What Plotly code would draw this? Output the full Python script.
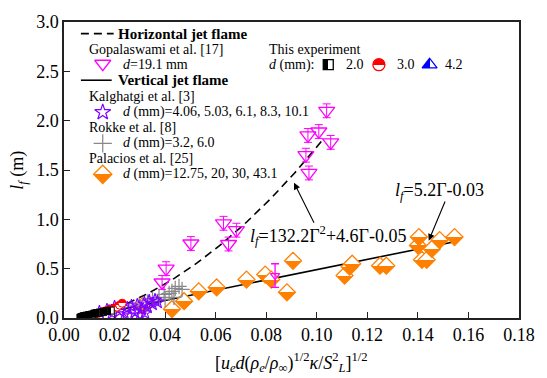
import numpy as np
import plotly.graph_objects as go

# ---------------- data ----------------
# Gopalaswami et al. [17] (horizontal jet flame), d = 19.1 mm
gop_x = [0.1039, 0.1008, 0.0965, 0.1055, 0.0957, 0.0969, 0.0631, 0.0682, 0.0651, 0.0502, 0.0404, 0.0388]
gop_y = [2.10, 1.89, 1.85, 1.78, 1.65, 1.47, 0.96, 0.89, 0.75, 0.755, 0.50, 0.36]
gop_err = [0.07] * len(gop_x)
gop2_x = [0.0835]
gop2_y = [0.43]
gop2_err = [0.12]

# Kalghatgi et al. [3]
kal_x = [0.014, 0.017, 0.020, 0.022, 0.024, 0.025, 0.0267, 0.028, 0.029, 0.0306, 0.0318,
         0.033, 0.0337, 0.035, 0.036, 0.037, 0.026, 0.030, 0.019, 0.032]
kal_y = [0.06, 0.08, 0.11, 0.07, 0.04, 0.10, 0.12, 0.06, 0.13, 0.09, 0.15,
         0.11, 0.17, 0.14, 0.18, 0.16, 0.02, 0.03, 0.05, 0.05]

# Rokke et al. [8]
rok_x = [0.0298, 0.033, 0.035, 0.0376, 0.0396, 0.0416, 0.0427, 0.044, 0.0455, 0.0467, 0.040, 0.0435]
rok_y = [0.13, 0.16, 0.19, 0.21, 0.24, 0.25, 0.27, 0.30, 0.32, 0.29, 0.19, 0.21]

# Palacios et al. [25]
pal_x = [0.031, 0.0427, 0.0475, 0.0533, 0.0604, 0.0722, 0.0796, 0.082, 0.0882, 0.0906,
         0.111, 0.113, 0.114, 0.125, 0.1275, 0.140, 0.1404, 0.1416, 0.1435, 0.1455, 0.1486, 0.1545]
pal_y = [0.12, 0.09, 0.17, 0.27, 0.31, 0.39, 0.44, 0.39, 0.26, 0.58,
         0.43, 0.52, 0.55, 0.53, 0.53, 0.735, 0.82, 0.59, 0.59, 0.70, 0.79, 0.82]

# This experiment
d20_x = [0.0065, 0.007, 0.0075, 0.008, 0.009, 0.010, 0.011, 0.012, 0.013, 0.014, 0.0155, 0.017, 0.0185]
d20_y = [0.005, 0.01, 0.015, 0.02, 0.025, 0.03, 0.035, 0.045, 0.05, 0.055, 0.06, 0.07, 0.075]
d30_x = [0.008, 0.009, 0.010, 0.011, 0.012, 0.013, 0.014, 0.015, 0.016, 0.017, 0.018, 0.019,
         0.020, 0.021, 0.022, 0.023]
d30_y = [0.01, 0.02, 0.025, 0.03, 0.04, 0.045, 0.05, 0.06, 0.07, 0.075, 0.085, 0.09,
         0.10, 0.11, 0.13, 0.15]
d42_x = [0.010, 0.011, 0.012, 0.013, 0.014, 0.015, 0.016, 0.017, 0.018, 0.019, 0.020, 0.021]
d42_y = [0.02, 0.03, 0.04, 0.05, 0.05, 0.06, 0.07, 0.08, 0.09, 0.10, 0.10, 0.11]

# fits shown in the chart
horiz_coef = [132.2, 4.6, -0.05]   # l_f = a G^2 + b G + c
horiz_range = [0.025, 0.103]
vert_coef = [5.2, -0.03]           # l_f = a G + b
vert_range = [0.007, 0.155]

x_ticks = [0.00, 0.02, 0.04, 0.06, 0.08, 0.10, 0.12, 0.14, 0.16, 0.18]
y_ticks = [0.0, 0.5, 1.0, 1.5, 2.0, 2.5, 3.0]

# ---------------- figure ----------------
FONT = "Liberation Serif, Times New Roman, serif"
W, H = 547, 378
L, R, T, B = 64, 25, 13, 60
PW, PH = W - L - R, H - T - B

MAGENTA = "#ff00ff"
PURPLE = "#7f00ff"
GRAY = "#888888"
ORANGE = "#ff8000"

def px(x):  # pixel -> paper
    return (x - L) / PW

def py(y):
    return (H - B - y) / PH

# unique "tag" colours replaced by half-fill gradients in post script
ORANGE_HALF = "rgb(255,128,1)"
BLACK_HALF = "rgb(0,0,1)"
RED_HALF = "rgb(255,0,1)"
BLUE_HALF = "rgb(1,0,255)"

fig = go.Figure()

gh = np.linspace(horiz_range[0], horiz_range[1], 80)
fig.add_trace(go.Scatter(x=gh, y=np.polyval(horiz_coef, gh), mode="lines",
                         line=dict(color="black", width=1.6, dash="8px,5px")))
gv = np.array(vert_range)
fig.add_trace(go.Scatter(x=gv, y=np.polyval(vert_coef, gv), mode="lines",
                         line=dict(color="black", width=1.6)))

fig.add_trace(go.Scatter(x=pal_x, y=pal_y, mode="markers",
                         marker=dict(symbol="diamond", size=13, color=ORANGE_HALF, opacity=1,
                                     line=dict(color=ORANGE, width=1.3))))
fig.add_trace(go.Scatter(x=rok_x, y=rok_y, mode="markers",
                         marker=dict(symbol="cross-thin-open", size=11, color=GRAY, opacity=1,
                                     line=dict(color=GRAY, width=1.2))))
fig.add_trace(go.Scatter(x=kal_x, y=kal_y, mode="markers",
                         marker=dict(symbol="star-open", size=10, color=PURPLE, opacity=1,
                                     line=dict(color=PURPLE, width=1.1))))
fig.add_trace(go.Scatter(x=d42_x, y=d42_y, mode="markers",
                         marker=dict(symbol="triangle-up", size=8, color=BLUE_HALF, opacity=1,
                                     line=dict(color="#0000ff", width=1))))
fig.add_trace(go.Scatter(x=d30_x, y=d30_y, mode="markers",
                         marker=dict(symbol="circle", size=8, color=RED_HALF, opacity=1,
                                     line=dict(color="#ff0000", width=1))))
fig.add_trace(go.Scatter(x=d20_x, y=d20_y, mode="markers",
                         marker=dict(symbol="square", size=7, color=BLACK_HALF, opacity=1,
                                     line=dict(color="black", width=1))))
fig.add_trace(go.Scatter(x=gop_x, y=gop_y, mode="markers",
                         error_y=dict(type="data", array=gop_err, color=MAGENTA,
                                      thickness=1, width=4),
                         marker=dict(symbol="triangle-down-open", size=14, color=MAGENTA, opacity=1,
                                     line=dict(color=MAGENTA, width=1.3))))
fig.add_trace(go.Scatter(x=gop2_x, y=gop2_y, mode="markers",
                         error_y=dict(type="data", array=gop2_err, color=MAGENTA,
                                      thickness=1.3, width=4),
                         marker=dict(symbol="triangle-down-open", size=8, color=MAGENTA, opacity=1,
                                     line=dict(color=MAGENTA, width=1.2))))

# ---------------- legend (drawn on an overlay paper-like axis) ----------------
rows = [25, 41, 57, 73, 90, 106, 122, 138, 154, 170]

def leg_marker(xp, yp, **mk):
    fig.add_trace(go.Scatter(x=[px(xp)], y=[py(yp)], mode="markers", xaxis="x2", yaxis="y2",
                             cliponaxis=False, marker=mk))

def leg_text(xp, yp, text, size=14):
    fig.add_annotation(x=px(xp), y=py(yp), xref="paper", yref="paper", text=text,
                       showarrow=False, xanchor="left", yanchor="middle",
                       font=dict(family=FONT, size=size, color="black"))

fig.add_shape(type="line", xref="paper", yref="paper", x0=px(81), x1=px(114),
              y0=py(rows[0]), y1=py(rows[0]), line=dict(color="black", width=1.6, dash="8px,5px"))
leg_text(116, rows[0], "<b>Horizontal jet flame</b>", 15)
leg_text(87, rows[1], "Gopalaswami et al. [17]")
leg_marker(103, rows[2] - 1, symbol="triangle-down-open", size=14, color=MAGENTA,
           line=dict(color=MAGENTA, width=1.3))
leg_text(121, rows[2], "<i>d</i>=19.1 mm")
fig.add_shape(type="line", xref="paper", yref="paper", x0=px(81), x1=px(112),
              y0=py(rows[3]), y1=py(rows[3]), line=dict(color="black", width=1.6))
leg_text(116, rows[3], "<b>Vertical jet flame</b>", 15)
leg_text(87, rows[4], "Kalghatgi et al. [3]")
leg_marker(103, rows[5], symbol="star-open", size=12, color=PURPLE, line=dict(color=PURPLE, width=1.2))
leg_text(121, rows[5], "<i>d</i> (mm)=4.06, 5.03, 6.1, 8.3, 10.1")
leg_text(87, rows[6], "Rokke et al. [8]")
leg_marker(103, rows[7], symbol="cross-thin-open", size=13, color=GRAY, line=dict(color=GRAY, width=1.2))
leg_text(121, rows[7], "<i>d</i> (mm)=3.2, 6.0")
leg_text(87, rows[8], "Palacios et al. [25]")
leg_marker(103, rows[9], symbol="diamond", size=14, color=ORANGE_HALF, line=dict(color=ORANGE, width=1.3))
leg_text(121, rows[9], "<i>d</i> (mm)=12.75, 20, 30, 43.1")

leg_text(268, rows[1], "This experiment")
leg_text(268, rows[2], "<i>d</i> (mm):")
leg_marker(330, rows[2], symbol="square", size=10, color=BLACK_HALF, line=dict(color="black", width=1.3))
leg_text(346, rows[2], "2.0")
leg_marker(381, rows[2], symbol="circle", size=12, color=RED_HALF, line=dict(color="#ff0000", width=1.3))
leg_text(397, rows[2], "3.0")
leg_marker(432, rows[2], symbol="triangle-up", size=13, color=BLUE_HALF, line=dict(color="#0000ff", width=1.3))
leg_text(446, rows[2], "4.2")

# ---------------- fit annotations ----------------
fig.add_annotation(x=0.1045, y=0.833, text="<i>l<sub>f</sub></i>=132.2Γ<sup>2</sup>+4.6Γ-0.05",
                   showarrow=False, xanchor="center", yanchor="middle",
                   font=dict(family=FONT, size=18, color="black"))
fig.add_annotation(x=0.091, y=1.37, ax=0.0992, ay=0.95, axref="x", ayref="y", text="",
                   showarrow=True, arrowhead=2, arrowsize=1.2, arrowwidth=1.1, arrowcolor="black")
fig.add_annotation(x=0.1485, y=1.284, text="<i>l<sub>f</sub></i>=5.2Γ-0.03",
                   showarrow=False, xanchor="center", yanchor="middle",
                   font=dict(family=FONT, size=18, color="black"))
fig.add_annotation(x=0.1443, y=0.784, ax=0.151, ay=1.196, axref="x", ayref="y", text="",
                   showarrow=True, arrowhead=2, arrowsize=1.2, arrowwidth=1.1, arrowcolor="black")

# axis titles
fig.add_annotation(x=px(18), y=py(166), xref="paper", yref="paper", textangle=-90,
                   xanchor="center", yanchor="middle",
                   text="<i>l<sub>f</sub></i> (m)", showarrow=False,
                   font=dict(family=FONT, size=18, color="black"))
fig.add_annotation(x=px(293), y=py(364), xref="paper", yref="paper",
                   xanchor="center", yanchor="middle",
                   text="[<i>u<sub>e</sub>d</i>(<i>ρ<sub>e</sub></i>/<i>ρ</i><sub>∞</sub>)<sup>1/2</sup><i>κ</i>/<i>S</i><sup>2</sup><sub><i>L</i></sub>]<sup>1/2</sup>",
                   showarrow=False, font=dict(family=FONT, size=18, color="black"))

axis_common = dict(showgrid=False, zeroline=False, showline=True, mirror=True,
                   linecolor="#222222", linewidth=1.5, ticks="inside", ticklen=6,
                   tickwidth=1.3, tickcolor="#222222",
                   tickfont=dict(family=FONT, size=18, color="black"))

fig.update_layout(
    width=W, height=H, margin=dict(l=L, r=R, t=T, b=B),
    paper_bgcolor="white", plot_bgcolor="white", showlegend=False,
    xaxis=dict(range=[0, 0.18], tickvals=x_ticks, ticktext=[f"{v:.2f}" for v in x_ticks], **axis_common),
    yaxis=dict(range=[0, 3.0], tickvals=y_ticks, ticktext=[f"{v:.1f}" for v in y_ticks], **axis_common),
    xaxis2=dict(range=[0, 1], overlaying="x", visible=False, fixedrange=True),
    yaxis2=dict(range=[0, 1], overlaying="y", visible=False, fixedrange=True),
)

post = """
var gd = document.getElementById('{plot_id}');
var ns = 'http://www.w3.org/2000/svg';
var svg = gd.querySelector('svg.main-svg');
var defs = svg.querySelector('defs');
function mk(id, x2, y2, c1, c2){
  var g = document.createElementNS(ns, 'linearGradient');
  g.setAttribute('id', id);
  g.setAttribute('x1','0'); g.setAttribute('y1','0');
  g.setAttribute('x2', x2); g.setAttribute('y2', y2);
  [[0,c1],[0.5,c1],[0.5,c2],[1,c2]].forEach(function(s){
    var st = document.createElementNS(ns,'stop');
    st.setAttribute('offset', s[0]); st.setAttribute('stop-color', s[1]);
    g.appendChild(st);
  });
  defs.appendChild(g);
}
mk('hf_orange','0','1','#ffffff','#ff8000');
mk('hf_black','1','0','#000000','#ffffff');
mk('hf_red','0','1','#ff0000','#ffffff');
mk('hf_blue','1','0','#0000ff','#ffffff');
var map = {'rgb(255, 128, 1)':'hf_orange','rgb(0, 0, 1)':'hf_black','rgb(255, 0, 1)':'hf_red','rgb(1, 0, 255)':'hf_blue'};
gd.querySelectorAll('path.point').forEach(function(p){
  var f = p.style.fill;
  if(map[f]) p.style.fill = 'url(#' + map[f] + ')';
});
"""

fig.write_html("out.html", post_script=post)
